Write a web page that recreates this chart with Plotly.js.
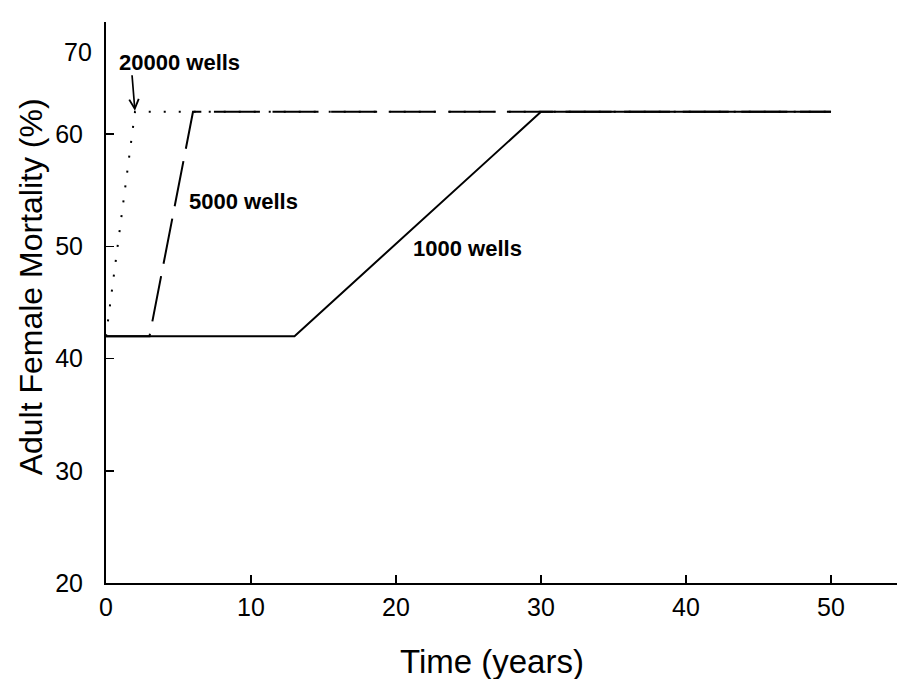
<!DOCTYPE html>
<html>
<head>
<meta charset="utf-8">
<script src="https://cdn.plot.ly/plotly-3.0.1.min.js"></script>
<style>html,body{margin:0;padding:0;background:#fff;}#chart{width:897px;height:679px;}</style>
</head>
<body>
<div id="chart"></div>
<script>
// Data
const years1000 = [0, 13, 30, 50];
const mort1000  = [42, 42, 62, 62];
const years5000 = [0, 3, 6, 50];
const mort5000  = [42, 42, 62, 62];
const years20000 = [0, 2, 50];
const mort20000  = [42, 62, 62];
const yTickVals = [20, 30, 40, 50, 60];
const yTickText = ['20', '30', '40', '50', '60'];
const xTickVals = [0, 10, 20, 30, 40, 50];
const xTickText = ['0', '10', '20', '30', '40', '50'];

const FONT = 'Liberation Sans, Arial, Helvetica, sans-serif';

const traces = [
  {x: years20000, y: mort20000, mode: 'lines', name: '20000 wells',
   line: {color: '#000', width: 2, dash: '2px,13px'}},
  {x: years5000, y: mort5000, mode: 'lines', name: '5000 wells',
   line: {color: '#000', width: 2, dash: '46px,12.6px'}},
  {x: years1000, y: mort1000, mode: 'lines', name: '1000 wells',
   line: {color: '#000', width: 2}}
];

const layout = {
  width: 897, height: 679,
  margin: {l: 106, r: 0, t: 21.5, b: 96, pad: 0},
  paper_bgcolor: '#fff', plot_bgcolor: '#fff',
  showlegend: false,
  font: {family: FONT, color: '#000'},
  xaxis: {
    range: [0, 54.55], showgrid: false, zeroline: false,
    showline: true, linecolor: '#000', linewidth: 2,
    ticks: 'inside', ticklen: 8, tickwidth: 1.5, tickcolor: '#000',
    tickvals: xTickVals, ticktext: xTickText,
    tickfont: {size: 25, family: FONT, color: '#000'},
    ticklabelstandoff: 1,
    title: {text: ''}
  },
  yaxis: {
    range: [20, 70], showgrid: false, zeroline: false,
    showline: true, linecolor: '#000', linewidth: 2,
    ticks: 'inside', ticklen: 8, tickwidth: 1.5, tickcolor: '#000',
    tickvals: yTickVals, ticktext: yTickText,
    tickfont: {size: 25, family: FONT, color: '#000'},
    ticklabelstandoff: 16,
    title: {text: ''}
  },
  annotations: [
    {xref: 'paper', yref: 'paper', x: -0.015, y: 0.9457, xanchor: 'right', yanchor: 'middle',
     text: '70', showarrow: false, font: {size: 25, family: FONT, color: '#000'}},
    {xref: 'paper', yref: 'paper', x: -0.0948, y: 0.527, xanchor: 'center', yanchor: 'middle',
     text: 'Adult Female Mortality (%)', textangle: -90, showarrow: false,
     font: {size: 32, family: FONT, color: '#000'}},
    {xref: 'paper', yref: 'paper', x: 0.488, y: -0.1407, xanchor: 'center', yanchor: 'middle',
     text: 'Time (years)', showarrow: false,
     font: {size: 33, family: FONT, color: '#000'}},
    {x: 5.1, y: 66.4, text: '20000 wells', showarrow: false,
     font: {size: 22, family: FONT, color: '#000', weight: 'bold'}},
    {x: 2, y: 62, ax: -3, ay: -37, axref: 'pixel', ayref: 'pixel', text: '',
     font: {size: 1}, borderpad: 0,
     showarrow: true, arrowhead: 5, arrowsize: 1.1, arrowwidth: 1.7, arrowcolor: '#000', standoff: 1},
    {x: 9.45, y: 54.0, text: '5000 wells', showarrow: false,
     font: {size: 22, family: FONT, color: '#000', weight: 'bold'}},
    {x: 24.9, y: 49.8, text: '1000 wells', showarrow: false,
     font: {size: 22, family: FONT, color: '#000', weight: 'bold'}}
  ]
};

Plotly.newPlot('chart', traces, layout, {staticPlot: true, displayModeBar: false});
</script>
</body>
</html>
